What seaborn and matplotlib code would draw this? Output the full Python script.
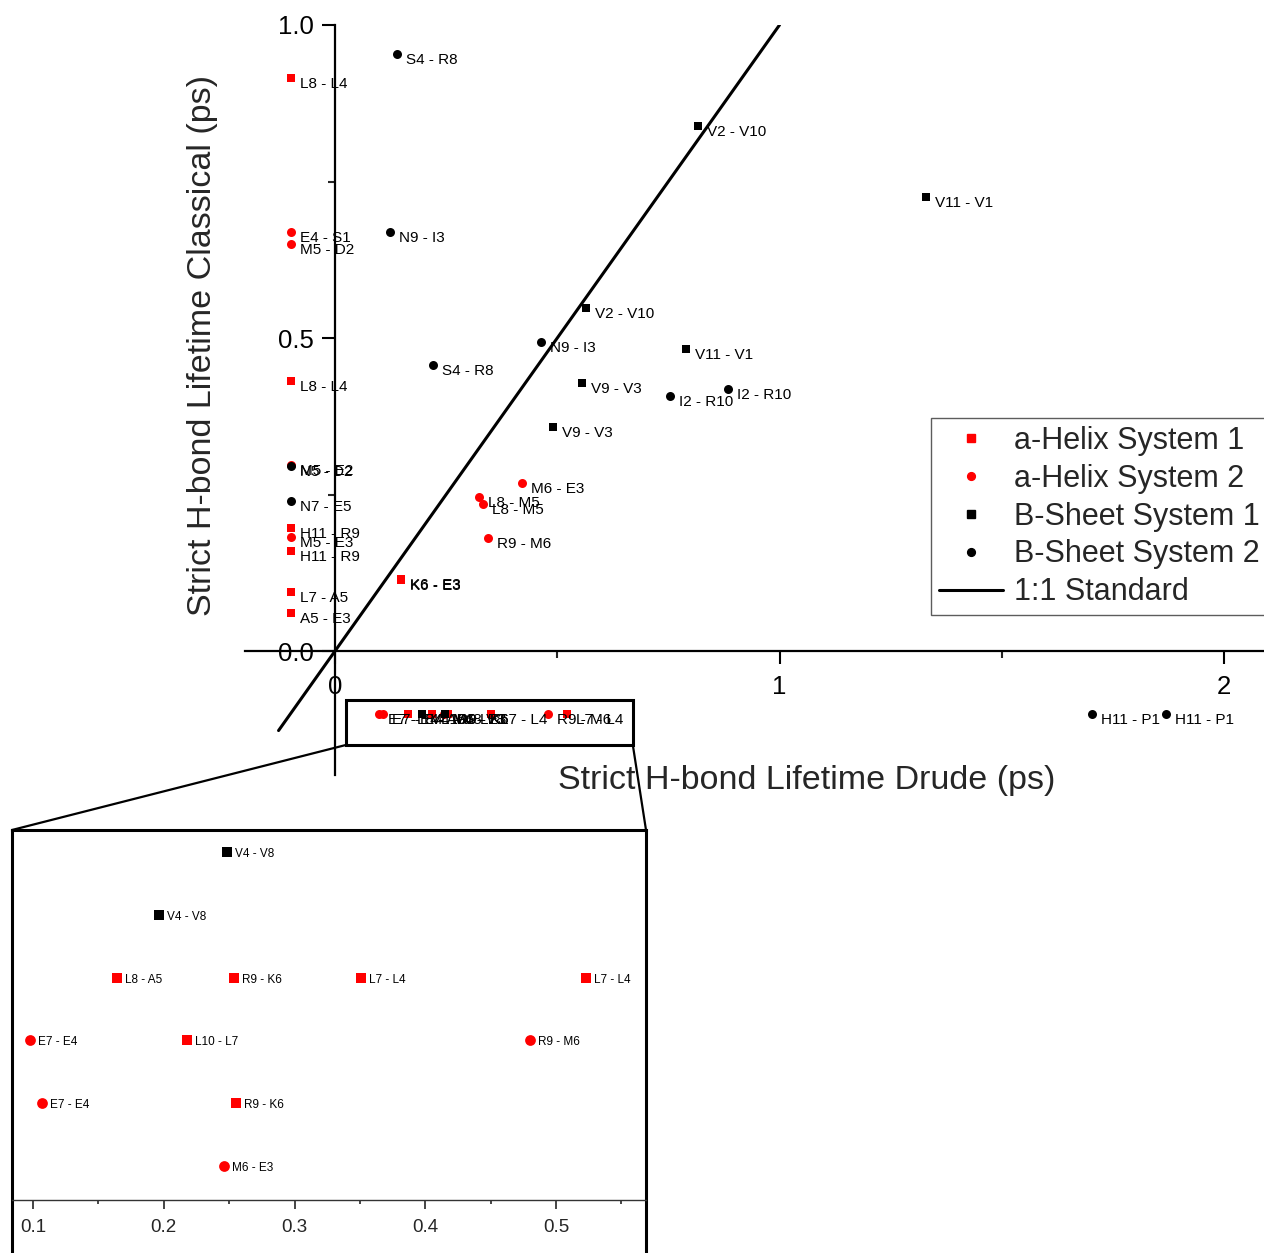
import numpy as np
import pandas as pd
import matplotlib
matplotlib.use("Agg")
import matplotlib.pyplot as plt
import seaborn as sns
from matplotlib.lines import Line2D
from matplotlib.patches import Rectangle, ConnectionPatch
from matplotlib.ticker import FixedLocator

# ---------------- data ----------------
groups = ["a-Helix System 1", "a-Helix System 2", "B-Sheet System 1", "B-Sheet System 2"]

ah1_labels = ["L8 - L4", "L8 - L4", "H11 - R9", "H11 - R9", "L7 - A5", "A5 - E3", "K6 - E3", "K6 - E3"]
ah1_drude = [-0.1, -0.1, -0.1, -0.1, -0.1, -0.1, 0.148, 0.149]
ah1_classical = [0.915, 0.431, 0.196, 0.160, 0.095, 0.060, 0.115, 0.114]

ah2_labels = ["E4 - S1", "M5 - D2", "M5 - E2", "M5 - E3", "M6 - E3", "L8 - M5", "L8 - M5", "R9 - M6"]
ah2_drude = [-0.1, -0.1, -0.1, -0.1, 0.420, 0.325, 0.334, 0.345]
ah2_classical = [0.669, 0.650, 0.297, 0.182, 0.268, 0.246, 0.235, 0.180]

bs1_labels = ["V2 - V10", "V11 - V1", "V2 - V10", "V11 - V1", "V9 - V3", "V9 - V3"]
bs1_drude = [0.817, 1.330, 0.564, 0.790, 0.556, 0.490]
bs1_classical = [0.839, 0.725, 0.548, 0.482, 0.428, 0.358]

bs2_labels = ["S4 - R8", "N9 - I3", "S4 - R8", "N9 - I3", "I2 - R10", "I2 - R10",
              "N5 - D2", "N7 - E5", "H11 - P1", "H11 - P1"]
bs2_drude = [0.140, 0.123, 0.220, 0.463, 0.753, 0.884, -0.1, -0.1, 1.702, 1.870]
bs2_classical = [0.954, 0.670, 0.457, 0.494, 0.408, 0.419, 0.296, 0.240, -0.1, -0.1]

# pairs plotted at classical = -0.1 (magnified in the inset)
low_labels = ["V4 - V8", "V4 - V8", "L8 - A5", "R9 - K6", "L7 - L4", "L7 - L4",
              "E7 - E4", "L10 - L7", "R9 - M6", "E7 - E4", "R9 - K6", "M6 - E3"]
low_groups = ["B-Sheet System 1", "B-Sheet System 1", "a-Helix System 1", "a-Helix System 1",
              "a-Helix System 1", "a-Helix System 1", "a-Helix System 2", "a-Helix System 1",
              "a-Helix System 2", "a-Helix System 2", "a-Helix System 1", "a-Helix System 2"]
low_drude = [0.248, 0.196, 0.164, 0.254, 0.351, 0.523, 0.098, 0.218, 0.480, 0.107, 0.255, 0.246]
low_classical = [-0.1, -0.1, -0.1, -0.1, -0.1, -0.1, -0.1, -0.1, -0.1, -0.1, -0.1, -0.1]
low_row = [6, 5, 4, 4, 4, 4, 3, 3, 3, 2, 2, 1]

std_line = [-0.127, 1.0]

x_ticks = [0, 1, 2]
x_ticklabels = ["0", "1", "2"]
y_ticks = [0.0, 0.5, 1.0]
y_ticklabels = ["0.0", "0.5", "1.0"]
inset_ticks = [0.1, 0.2, 0.3, 0.4, 0.5]
inset_ticklabels = ["0.1", "0.2", "0.3", "0.4", "0.5"]

# ---------------- frames ----------------
frames = []
for g, lab, xd, yc in [(groups[0], ah1_labels, ah1_drude, ah1_classical),
                       (groups[1], ah2_labels, ah2_drude, ah2_classical),
                       (groups[2], bs1_labels, bs1_drude, bs1_classical),
                       (groups[3], bs2_labels, bs2_drude, bs2_classical)]:
    frames.append(pd.DataFrame({"label": lab, "drude": xd, "classical": yc, "system": g}))
frames.append(pd.DataFrame({"label": low_labels, "drude": low_drude,
                            "classical": low_classical, "system": low_groups}))
df = pd.concat(frames, ignore_index=True)
df_in = pd.DataFrame({"label": low_labels, "drude": low_drude, "row": low_row, "system": low_groups})

style = {
    "a-Helix System 1": dict(marker="s", color="#ff0000", s_main=30, s_in=50),
    "a-Helix System 2": dict(marker="o", color="#ff0000", s_main=42, s_in=60),
    "B-Sheet System 1": dict(marker="s", color="#000000", s_main=30, s_in=50),
    "B-Sheet System 2": dict(marker="o", color="#000000", s_main=42, s_in=60),
}

# ---------------- figure ----------------
sns.set_style("ticks")
plt.rcParams["font.family"] = ["Liberation Sans", "DejaVu Sans"]

W, H = 1264, 1253
fig = plt.figure(figsize=(W / 100, H / 100), dpi=100)

ax = fig.add_axes([245 / W, 1 - 775 / H, 1019 / W, 750 / H])

for g in groups:
    sub = df[df["system"] == g]
    st = style[g]
    sns.scatterplot(data=sub, x="drude", y="classical", marker=st["marker"], color=st["color"],
                    s=st["s_main"], linewidth=0, ax=ax, legend=False, zorder=3)

for _, r in df.iterrows():
    ax.annotate(r["label"], (r["drude"], r["classical"]), xytext=(9, -6),
                textcoords="offset pixels", fontsize=11, va="center", ha="left",
                color="black", zorder=4)

ax.plot(std_line, std_line, color="black", lw=2.2, zorder=2)

ax.set_xlim(-0.2025, 2.09)
ax.set_ylim(-0.198, 1.0)
for s in ["top", "right"]:
    ax.spines[s].set_visible(False)
ax.spines["left"].set_position(("data", 0))
ax.spines["bottom"].set_position(("data", 0))
for s in ["left", "bottom"]:
    ax.spines[s].set_linewidth(1.6)
    ax.spines[s].set_color("black")

ax.set_xticks(x_ticks)
ax.set_xticklabels(x_ticklabels)
ax.set_yticks(y_ticks)
ax.set_yticklabels(y_ticklabels)
ax.xaxis.set_minor_locator(FixedLocator([0.5, 1.5]))
ax.yaxis.set_minor_locator(FixedLocator([0.25, 0.75]))
ax.tick_params(which="major", direction="out", length=9.4, width=1.5, labelsize=18.5,
               pad=6, bottom=True, left=True, colors="black")
ax.tick_params(axis="x", which="major", pad=8)
ax.tick_params(which="minor", direction="out", length=4.7, width=1.5, bottom=True, left=True)
ax.set_xlabel("")
ax.set_ylabel("")

fig.text(203 / W, 1 - 345 / H, "Strict H-bond Lifetime Classical (ps)", rotation=90,
         ha="center", va="center", fontsize=24.5)
fig.text(807 / W, 1 - 780 / H, "Strict H-bond Lifetime Drude (ps)",
         ha="center", va="center", fontsize=24.5)

# zoom box
zx0, zx1, zy0, zy1 = 0.0247, 0.670, -0.150, -0.078
ax.add_patch(Rectangle((zx0, zy0), zx1 - zx0, zy1 - zy0, fill=False, lw=2.2,
                       edgecolor="black", zorder=5))

# legend
handles = [
    Line2D([], [], marker="s", color="#ff0000", ls="none", markersize=5.3),
    Line2D([], [], marker="o", color="#ff0000", ls="none", markersize=5.6),
    Line2D([], [], marker="s", color="black", ls="none", markersize=5.3),
    Line2D([], [], marker="o", color="black", ls="none", markersize=5.6),
    Line2D([], [], color="black", lw=2.2),
]
leg = ax.legend(handles, groups + ["1:1 Standard"], loc="upper left",
                bbox_to_anchor=(931 / W, 1 - 418 / H), bbox_transform=fig.transFigure,
                borderaxespad=0, fontsize=22, handlelength=2.1, handletextpad=0.36,
                labelspacing=0.26, borderpad=0.25, frameon=True, fancybox=False)
leg.get_frame().set_edgecolor("#333333")
leg.get_frame().set_linewidth(1.0)

# ---------------- inset ----------------
axin = fig.add_axes([12 / W, 0, 634 / W, 423 / H])
for g in groups:
    sub = df_in[df_in["system"] == g]
    st = style[g]
    sns.scatterplot(data=sub, x="drude", y="row", marker=st["marker"], color=st["color"],
                    s=st["s_in"], linewidth=0, ax=axin, legend=False, zorder=3)
for _, r in df_in.iterrows():
    axin.annotate(r["label"], (r["drude"], r["row"]), xytext=(8, -2),
                  textcoords="offset pixels", fontsize=8.5, va="center", ha="left",
                  color="black")

axin.set_xlim(0.0839, 0.5688)
axin.set_ylim(-0.381, 6.349)
for s in ["top", "left", "right"]:
    axin.spines[s].set_linewidth(2.2)
    axin.spines[s].set_color("black")
axin.spines["bottom"].set_position(("data", 0.46))
axin.spines["bottom"].set_linewidth(1.0)
axin.spines["bottom"].set_color("#333333")
axin.set_yticks([])
axin.set_xticks(inset_ticks)
axin.set_xticklabels(inset_ticklabels)
axin.xaxis.set_minor_locator(FixedLocator([0.15, 0.25, 0.35, 0.45, 0.55]))
axin.tick_params(which="major", direction="out", length=6.5, width=1.2, labelsize=13.5,
                 pad=7, bottom=True, left=False)
axin.tick_params(which="minor", direction="out", length=3, width=1.2, bottom=True)
axin.set_xlabel("")
axin.set_ylabel("")

for xa, xb in [(zx0, 0), (zx1, 1)]:
    con = ConnectionPatch(xyA=(xa, zy0), coordsA=ax.transData, xyB=(xb, 1),
                          coordsB=axin.transAxes, color="black", lw=1.6)
    fig.add_artist(con)

fig.savefig("out.png", dpi=100)
